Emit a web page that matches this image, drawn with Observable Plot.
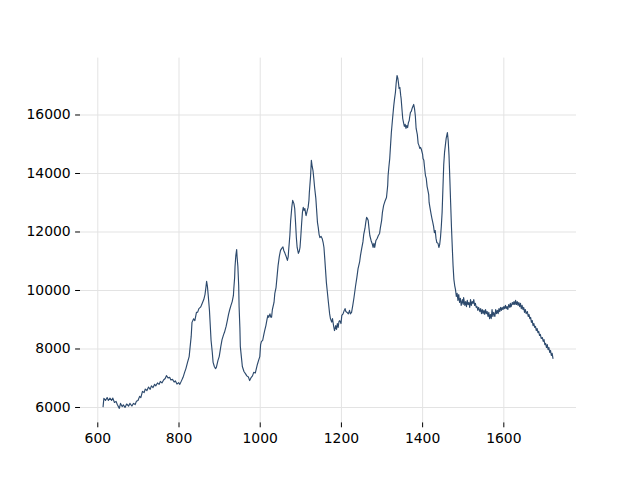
<!DOCTYPE html>
<html>
<head>
<meta charset="utf-8">
<script src="https://cdn.jsdelivr.net/npm/d3@7"></script>
<script src="https://cdn.jsdelivr.net/npm/@observablehq/plot@0.6"></script>
<style>
  html, body { margin: 0; padding: 0; background: #ffffff; }
  #chart svg { display: block; }
</style>
</head>
<body>
<div id="chart"></div>
<script>
const wavenumber = [
613,615,619,623,626,630,634,637,641,645,648,653,656,660,663,667,671,676,679,684,688,692,695,699,703,706,710,714,717,721,725,729,732,736,740,743,747,751,754,758,762,766,769,773,777,780,784,788,791,795,799,802,806,810,814,817,821,825,827,830,832,
836,839,843,846,849,853,855,858,861,864,866,868,870,872,875,877,879,882,884,887,890,892,896,899,901,903,906,910,912,916,919,922,925,928,931,934,935,937,938,940,942,943,945,947,948,950,951,954,956,960,964,967,971,974,978,981,984,988,993,996,
999,1001,1003,1006,1009,1011,1014,1017,1019,1021,1024,1026,1028,1030,1034,1036,1039,1042,1044,1047,1050,1053,1056,1058,1061,1064,1067,1069,1070,1073,1075,1078,1080,1083,1085,1087,1089,1091,1094,1096,1098,1100,1102,1104,1106,1108,1110,1112,1113,1116,1118,1120,1121,1124,1126,1128,1130,1132,1134,1137,1139,1141,1143,1145,1147,1150,1153,1155,1157,1159,1161,1163,1165,1168,1171,1173,1176,1178,1181,1183,1186,1188,1190,1192,1194,1196,1199,1201,1204,1207,1209,1211,1214,1217,1220,1222,1225,1228,1231,1235,1238,1241,1245,1247,1250,1253,1255,1258,1260,1262,1264,1266,1268,1270,1273,1276,1278,1280,1282,1285,1288,1291,1294,1296,1299,1301,1304,1307,1311,1314,1315,1317,1319,1321,1323,1326,1329,1331,1333,1335,1337,1339,1341,1342,1344,1346,1347,1349,1351,1353,1355,1357,1359,1361,1363,1365,1367,1368,1370,1372,1374,1376,1378,1380,1382,1384,1387,1389,1391,1393,1395,1397,1400,1401,1403,1405,1407,1409,1411,1413,1415,1416,1418,1421,1423,1425,1427,1429,1431,1433,1435,1438,1440,1442,1444,1446,1448,1450,1452,1454,1456,1458,1461,1463,1465,1467,1469,1471,1473,1475,1477,1479,1481,1483,1485,1487,1489,1491,1493,1495,1498,1500,1501,1504,1506,1508,1510,1512,1514,1516,1518,1520,1522,1524,1526,1528,1530,1532,1534,1536,1538,1541,1543,1545,1547,1549,1551,1553,1555,1557,1559,1561,1563,1565,1567,1569,1571,1573,1575,1578,1580,1582,1584,1586,1588,1590,1592,1594,1596,1598,1600,1602,1604,1606,1608,1610,1612,1615,1616,1618,1621,1623,1625,1627,1629,1631,1633,1635,1637,1639,1641,1643,1645,1647,1649,1651,1653,1655,1658,1660,1662,1664,1666,1668,1670,1672,1674,1676,1678,1680,1682,1684,1686,1688,1690,1692,1695,1697,1699,1701,1703,1705,1707,1709,1711,1713,1715,1717,1719,1721
];
const intensity = [
6030,6310,6240,6340,6240,6320,6240,6320,6170,6210,6100,5970,6140,6030,6090,6000,6120,6050,6140,6050,6140,6100,6210,6240,6380,6340,6550,6510,6630,6580,6700,6620,6740,6680,6790,6740,6840,6790,6890,6840,6940,6990,7090,7010,7030,6940,6960,6870,6910,6800,6850,6790,6910,7030,7210,7330,7540,7740,8020,8430,8910,
9030,8970,9250,9260,9380,9430,9490,9590,9690,9860,10070,10310,10140,9830,9320,8800,8290,7880,7540,7400,7330,7370,7610,7740,7910,8090,8320,8500,8570,8770,8970,9180,9350,9490,9620,9830,10070,10440,10820,11200,11400,11160,10820,10170,9450,8700,8090,7680,7400,7230,7150,7080,7040,6920,7030,7080,7200,7180,7470,7610,
7740,8150,8260,8290,8500,8630,8800,9030,9150,9080,9200,9090,9090,9350,9590,9900,10100,10550,10850,11160,11370,11440,11490,11370,11270,11160,11030,11160,11370,11880,12390,12870,13080,12970,12800,12330,11810,11470,11270,11330,11470,11850,12290,12670,12840,12740,12800,12630,12560,12740,12840,13080,13350,13900,14450,14240,14100,13830,13520,13150,12740,12330,12150,11920,11810,11850,11760,11640,11470,11090,10680,10270,10000,9590,9200,9040,8920,9040,8770,8630,8800,8670,8870,8740,8940,8970,8870,9150,9200,9320,9380,9280,9250,9200,9320,9200,9250,9490,9760,10170,10440,10750,10990,11200,11440,11660,11920,12120,12330,12500,12460,12390,12120,11880,11710,11590,11470,11610,11470,11710,11780,11880,11950,12150,12390,12670,12910,13040,13180,13590,13930,14240,14510,14960,15400,15880,16330,16570,16770,17110,17350,17250,17040,16910,16940,16670,16570,16220,15880,15740,15610,15680,15540,15640,15570,15740,15810,15920,16090,16120,16220,16290,16360,16220,15980,15540,15330,15030,14960,14860,14890,14820,14650,14510,14450,14170,13930,13830,13560,13420,13280,13010,12840,12600,12460,12330,12190,11980,12050,11780,11640,11610,11470,11570,11810,12190,12670,13490,14310,14720,14960,15200,15400,15130,14620,13830,13010,12190,11500,10850,10380,10170,10030,9800,9900,9660,9860,9590,9730,9490,9690,9520,9760,9490,9620,9450,9660,9520,9590,9420,9690,9490,9620,9560,9690,9490,9560,9420,9450,9320,9420,9280,9380,9210,9350,9210,9320,9180,9350,9210,9280,9110,9250,9040,9180,9040,9350,9110,9250,9110,9350,9210,9320,9210,9380,9280,9420,9320,9420,9350,9450,9380,9490,9380,9450,9350,9520,9420,9560,9450,9590,9520,9620,9520,9660,9520,9620,9490,9590,9450,9560,9380,9490,9350,9420,9250,9350,9210,9280,9110,9180,9040,9080,8910,8970,8800,8870,8740,8770,8630,8700,8560,8600,8460,8500,8360,8390,8260,8320,8150,8190,8050,8150,7980,8050,7880,7950,7780,7850,7680
];
const xTicks = [600, 800, 1000, 1200, 1400, 1600];
const yTicks = [6000, 8000, 10000, 12000, 14000, 16000];

const rows = wavenumber.map((w, i) => ({w, v: intensity[i]}));

const chart = Plot.plot({
  width: 640,
  height: 480,
  marginLeft: 80,
  marginRight: 64,
  marginTop: 57.6,
  marginBottom: 57.6,
  style: {fontFamily: "DejaVu Sans", fontSize: "13.9px", color: "#000", background: "#fff"},
  x: {domain: [557.4, 1779], label: null},
  y: {domain: [5473, 17945], label: null},
  marks: [
    Plot.gridX(xTicks, {stroke: "#e3e3e3", strokeOpacity: 1, strokeWidth: 1}),
    Plot.gridY(yTicks, {stroke: "#e3e3e3", strokeOpacity: 1, strokeWidth: 1}),
    Plot.axisX(xTicks, {tickSize: 4.9, tickPadding: 5, stroke: "#000", fill: "#000", fontSize: 13.9, label: null, tickFormat: d => String(d)}),
    Plot.axisY(yTicks, {tickSize: 4.9, tickPadding: 4.9, stroke: "#000", fill: "#000", fontSize: 13.9, label: null, tickFormat: d => String(d)}),
    Plot.line(rows, {x: "w", y: "v", stroke: "#2d4a6d", strokeWidth: 1.15})
  ]
});
document.getElementById("chart").appendChild(chart);
</script>
</body>
</html>
